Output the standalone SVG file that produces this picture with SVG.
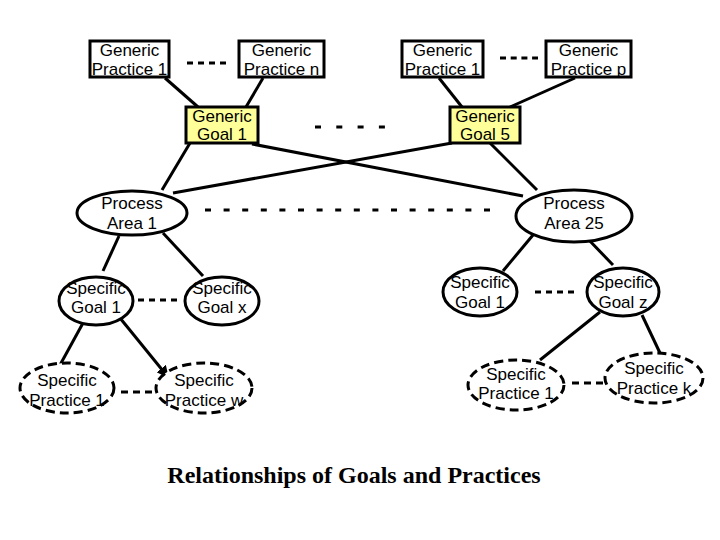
<svg xmlns="http://www.w3.org/2000/svg" width="720" height="540" viewBox="0 0 720 540">
<style>
.box{fill:#fff;stroke:#000;stroke-width:3}
.goal{fill:#ffff99;stroke:#000;stroke-width:3}
.ell{fill:#fff;stroke:#000;stroke-width:3}
.dell{fill:#fff;stroke:#000;stroke-width:3;stroke-dasharray:9 5}
.ln{stroke:#000;stroke-width:3;fill:none}
.dot{stroke:#000;stroke-width:3;fill:none}
text{font-family:"Liberation Sans",Arial,sans-serif;font-size:17px;text-anchor:middle;fill:#000}
.title{font-family:"Liberation Serif","Times New Roman",serif;font-size:24px;font-weight:bold}
</style>
<defs>
<marker id="arr" viewBox="0 0 10 10" refX="9" refY="5" markerWidth="4" markerHeight="4" orient="auto" markerUnits="strokeWidth">
<path d="M0,0 L10,5 L0,10 z" fill="#000"/>
</marker>
</defs>
<rect width="720" height="540" fill="#fff"/>
<g id="connectors">
<line class="ln" x1="165" y1="78" x2="198" y2="107"/>
<line class="ln" x1="263" y1="78" x2="246" y2="107"/>
<line class="ln" x1="439" y1="78" x2="462" y2="107"/>
<line class="ln" x1="575" y1="78" x2="510" y2="107"/>
<line class="ln" x1="190" y1="143" x2="162" y2="190"/>
<line class="ln" x1="252" y1="144" x2="523" y2="196"/>
<line class="ln" x1="452" y1="143" x2="173" y2="193"/>
<line class="ln" x1="490" y1="143" x2="537" y2="190"/>
<line class="ln" x1="119" y1="236" x2="103" y2="271"/>
<line class="ln" x1="163" y1="233" x2="203" y2="276"/>
<line class="ln" x1="83" y1="323" x2="60" y2="365"/>
<line class="ln" x1="120" y1="318" x2="168" y2="377" marker-end="url(#arr)"/>
<line class="ln" x1="533" y1="235" x2="503" y2="271"/>
<line class="ln" x1="587" y1="238" x2="613" y2="265"/>
<line class="ln" x1="600" y1="312" x2="540" y2="360"/>
<line class="ln" x1="642" y1="315" x2="660" y2="353"/>
<line class="dot" x1="187" y1="63" x2="227" y2="63" stroke-dasharray="6 5"/>
<line class="dot" x1="500" y1="58" x2="538" y2="58" stroke-dasharray="6 4.7"/>
<line class="dot" x1="315" y1="127" x2="385" y2="127" stroke-dasharray="6 15.3"/>
<line class="dot" x1="205" y1="210" x2="490" y2="210" stroke-dasharray="6 12.6"/>
<line class="dot" x1="138" y1="300" x2="177" y2="300" stroke-dasharray="6 5"/>
<line class="dot" x1="121" y1="392" x2="152" y2="392" stroke-dasharray="7 5"/>
<line class="dot" x1="535" y1="292" x2="574" y2="292" stroke-dasharray="6 5"/>
<line class="dot" x1="572" y1="383" x2="603" y2="383" stroke-dasharray="7 5"/>
</g>
<g id="gp1">
<rect class="box" x="90" y="41" width="79" height="36"/>
<text x="129.5" y="56">Generic</text>
<text x="129.5" y="75">Practice 1</text>
</g>
<g id="gpn">
<rect class="box" x="239" y="41" width="85" height="36"/>
<text x="281.5" y="56">Generic</text>
<text x="281.5" y="75">Practice n</text>
</g>
<g id="gp1b">
<rect class="box" x="402" y="41" width="81" height="36"/>
<text x="442.5" y="56">Generic</text>
<text x="442.5" y="75">Practice 1</text>
</g>
<g id="gpp">
<rect class="box" x="546" y="41" width="85" height="36"/>
<text x="588.5" y="56">Generic</text>
<text x="588.5" y="75">Practice p</text>
</g>
<g id="gg1">
<rect class="goal" x="186" y="107" width="72" height="36"/>
<text x="222" y="122">Generic</text>
<text x="222" y="140">Goal 1</text>
</g>
<g id="gg5">
<rect class="goal" x="450" y="107" width="70" height="36"/>
<text x="485" y="122">Generic</text>
<text x="485" y="140">Goal 5</text>
</g>
<g id="pa1">
<ellipse class="ell" cx="132" cy="213" rx="55" ry="22"/>
<text x="132" y="209">Process</text>
<text x="132" y="229">Area 1</text>
</g>
<g id="pa25">
<ellipse class="ell" cx="574" cy="216" rx="58" ry="26"/>
<text x="574" y="209">Process</text>
<text x="574" y="229">Area 25</text>
</g>
<g id="sg1">
<ellipse class="ell" cx="96" cy="301" rx="37" ry="24"/>
<text x="96" y="294">Specific</text>
<text x="96" y="313">Goal 1</text>
</g>
<g id="sgx">
<ellipse class="ell" cx="222" cy="301" rx="37" ry="24"/>
<text x="222" y="294">Specific</text>
<text x="222" y="313">Goal x</text>
</g>
<g id="sg1b">
<ellipse class="ell" cx="480" cy="292" rx="37" ry="24"/>
<text x="480" y="288">Specific</text>
<text x="480" y="308">Goal 1</text>
</g>
<g id="sgz">
<ellipse class="ell" cx="623" cy="292" rx="36" ry="24"/>
<text x="623" y="288">Specific</text>
<text x="623" y="308">Goal z</text>
</g>
<g id="sp1">
<ellipse class="dell" cx="67" cy="388" rx="47" ry="25"/>
<text x="67" y="386">Specific</text>
<text x="67" y="406">Practice 1</text>
</g>
<g id="spw">
<ellipse class="dell" cx="204" cy="388" rx="48" ry="25"/>
<text x="204" y="386">Specific</text>
<text x="204" y="406">Practice w</text>
</g>
<g id="sp1b">
<ellipse class="dell" cx="516" cy="385" rx="48" ry="25"/>
<text x="516" y="380">Specific</text>
<text x="516" y="399">Practice 1</text>
</g>
<g id="spk">
<ellipse class="dell" cx="654" cy="378" rx="49" ry="25"/>
<text x="654" y="374">Specific</text>
<text x="654" y="394">Practice k</text>
</g>
<text class="title" x="354" y="483">Relationships of Goals and Practices</text>
</svg>
